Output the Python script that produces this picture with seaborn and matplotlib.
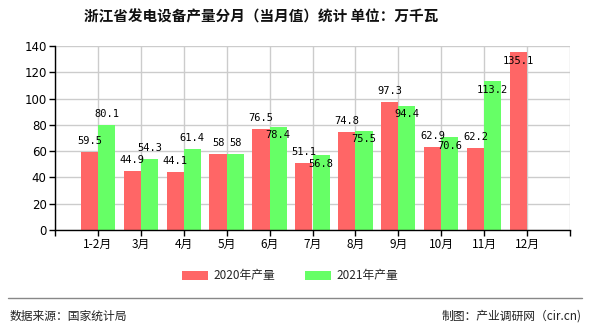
import numpy as np
import pandas as pd
import matplotlib
matplotlib.use("Agg")
import matplotlib.pyplot as plt
import seaborn as sns
from matplotlib.patches import Patch
from matplotlib.lines import Line2D

months = ["1-2月", "3月", "4月", "5月", "6月", "7月", "8月", "9月", "10月", "11月", "12月"]
series_names = ["2020年产量", "2021年产量"]
values_2020 = [59.5, 44.9, 44.1, 58, 76.5, 51.1, 74.8, 97.3, 62.9, 62.2, 135.1]
values_2021 = [80.1, 54.3, 61.4, 58, 78.4, 56.8, 75.5, 94.4, 70.6, 113.2, np.nan]
y_ticks = [0, 20, 40, 60, 80, 100, 120, 140]
title = "浙江省发电设备产量分月（当月值）统计 单位：万千瓦"
source_text = "数据来源：国家统计局"
credit_text = "制图：产业调研网（cir.cn)"

# label placement (style): +1 above bar top, -1 just inside bar top
place_2020 = [1, 1, 1, 1, 1, 1, 1, 1, 1, 1, -1]
place_2021 = [1, 1, 1, 1, -1, -1, -1, -1, -1, -1, 1]

sns.set_theme(style="white")
plt.rcParams['font.family'] = ['Noto Sans CJK SC', 'DejaVu Sans']

df = pd.DataFrame({
    "month": months * 2,
    "series": [series_names[0]] * len(months) + [series_names[1]] * len(months),
    "value": values_2020 + values_2021,
})

colors = ["#FF6666", "#66FF66"]
fig = plt.figure(figsize=(5.9, 3.3), dpi=100)
ax = fig.add_axes([55 / 590, 1 - 230 / 330, (570 - 55) / 590, (230 - 46) / 330])

sns.barplot(data=df, x="month", y="value", hue="series", order=months,
            hue_order=series_names, palette=colors, width=0.8,
            saturation=1, ax=ax, legend=False, zorder=2,
            linewidth=0, edgecolor="none")

ax.set_xlim(-1, len(months))
ax.set_ylim(0, 140)
ax.set_yticks(y_ticks)
ax.set_yticklabels([str(v) for v in y_ticks], fontsize=8.5, family=['DejaVu Sans'])
ax.set_xticks(range(-1, len(months) + 1))
ax.set_xticklabels([""] + months + [""], fontsize=8.5)
ax.set_xlabel("")
ax.set_ylabel("")
ax.grid(True, axis="both", color="#cccccc", linewidth=1, zorder=0)
ax.set_axisbelow(True)
for s in ["top", "right"]:
    ax.spines[s].set_visible(False)
for s in ["left", "bottom"]:
    ax.spines[s].set_color("black")
    ax.spines[s].set_linewidth(1)
ax.tick_params(axis="both", which="major", direction="out", length=4, width=1,
               color="black", pad=2, bottom=True, left=True, labelcolor="black")

# value labels
for i, (v1, v2) in enumerate(zip(values_2020, values_2021)):
    for v, off, p in [(v1, -0.2, place_2020[i]), (v2, 0.2, place_2021[i])]:
        if v is None or (isinstance(v, float) and np.isnan(v)):
            continue
        txt = f"{v:g}"
        ax.annotate(txt, xy=(i + off, v), xytext=(0, 8 if p > 0 else -6),
                    textcoords="offset points", ha="center", va="center",
                    fontsize=7.5, family=['DejaVu Sans Mono'], color="black", zorder=5)

fig.text(261 / 590, 1 - 16 / 330, title, ha="center", va="center", fontsize=10.5,
         fontweight="bold", color="#111111")

handles = [Patch(facecolor=c, edgecolor="none") for c in colors]
fig.legend(handles, series_names, loc="center", bbox_to_anchor=(290 / 590, 1 - 276 / 330),
           ncol=2, frameon=False, fontsize=8.5, handlelength=2.2, handleheight=0.9,
           columnspacing=2.5, handletextpad=0.5)

fig.add_artist(Line2D([8 / 590, 582 / 590], [1 - 298 / 330, 1 - 298 / 330],
                      color="#888888", linewidth=1))
fig.text(10 / 590, 1 - 316 / 330, source_text, ha="left", va="center", fontsize=8.5, color="#222222")
fig.text(582 / 590, 1 - 316 / 330, credit_text, ha="right", va="center", fontsize=8.5, color="#222222")

fig.savefig("out.png", dpi=100)
